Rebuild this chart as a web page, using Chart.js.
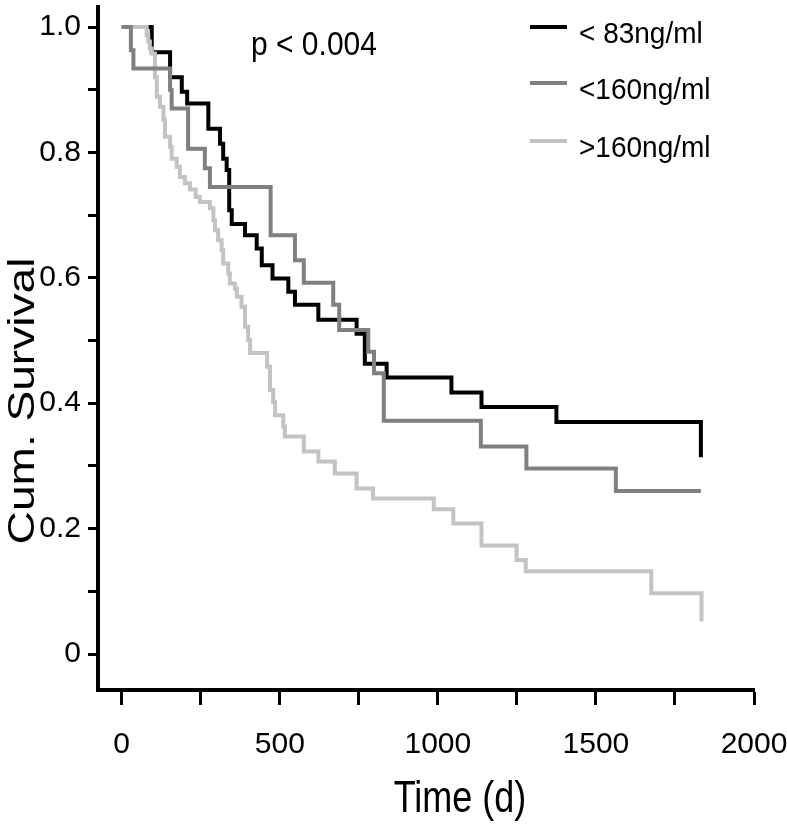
<!DOCTYPE html>
<html>
<head>
<meta charset="utf-8">
<script src="https://cdn.jsdelivr.net/npm/chart.js@4.4.1/dist/chart.umd.min.js"></script>
<style>
  html, body { margin: 0; padding: 0; background: #fff; }
  #wrap { width: 787px; height: 831px; }
</style>
</head>
<body>
<div id="wrap"><canvas id="kmChart" width="787" height="831"></canvas></div>
<script>
// ---------------- DATA ----------------
const seriesLabels = ["< 83ng/ml", "<160ng/ml", ">160ng/ml"];
const seriesColors = ["#000000", "#808080", "#c3c3c3"];
const seriesOrder = [3, 1, 2]; // black underneath, dark grey on top

// < 83ng/ml
const lowTime = [0, 95, 153, 190, 207, 274, 311, 321, 332, 340, 348, 390, 427, 443, 477, 527, 548, 622, 743, 769, 838, 1043, 1138, 1375, 1832];
const lowSurv = [1.0, 0.96, 0.92, 0.897, 0.878, 0.838, 0.814, 0.79, 0.772, 0.708, 0.686, 0.668, 0.647, 0.62, 0.599, 0.578, 0.557, 0.533, 0.511, 0.463, 0.441, 0.417, 0.394, 0.37, 0.314];

// <160ng/ml
const midTime = [0, 29, 37, 153, 158, 210, 263, 279, 471, 548, 576, 669, 688, 780, 798, 829, 1136, 1280, 1563, 1832];
const midSurv = [1.0, 0.963, 0.934, 0.9, 0.87, 0.806, 0.775, 0.745, 0.668, 0.628, 0.592, 0.557, 0.517, 0.482, 0.448, 0.372, 0.331, 0.296, 0.26, 0.26];

// >160ng/ml
const highTime = [0, 79, 84, 89, 95, 105, 111, 121, 132, 137, 153, 158, 174, 184, 200, 216, 234, 247, 279, 290, 295, 305, 316, 321, 337, 342, 358, 364, 379, 390, 400, 406, 460, 469, 479, 485, 511, 516, 576, 622, 674, 743, 795, 987, 1049, 1138, 1249, 1278, 1675, 1834];
const highSurv = [1.0, 0.987, 0.977, 0.966, 0.958, 0.92, 0.889, 0.873, 0.852, 0.825, 0.809, 0.79, 0.777, 0.761, 0.751, 0.741, 0.729, 0.721, 0.711, 0.692, 0.676, 0.66, 0.644, 0.623, 0.607, 0.591, 0.583, 0.57, 0.554, 0.522, 0.501, 0.48, 0.458, 0.421, 0.402, 0.381, 0.363, 0.347, 0.323, 0.307, 0.288, 0.264, 0.248, 0.231, 0.208, 0.173, 0.15, 0.132, 0.097, 0.052];

const xTitle = "Time (d)";
const yTitle = "Cum. Survival";
const pText = "p < 0.004";

const FONT = "'Liberation Sans', Arial, Helvetica, sans-serif";

function toPoints(times, surv) {
  return times.map((t, i) => ({ x: t, y: surv[i] }));
}

// the scanned figure is a bit taller than wide, so text gets stretched
function stretchedText(ctx, text, x, y, sx, sy) {
  ctx.save();
  ctx.translate(x, y);
  ctx.scale(sx, sy);
  ctx.fillText(text, 0, 0);
  ctx.restore();
}

// keep Chart.js from adding label overflow padding around the plot
function noPadding(scale) {
  scale.paddingLeft = 0;
  scale.paddingRight = 0;
  scale.paddingTop = 0;
  scale.paddingBottom = 0;
}

// ---------------- PLUGINS ----------------
// legend in upper right + p value + axis titles
const annotations = {
  id: "annotations",
  afterDraw(chart) {
    const ctx = chart.ctx;
    ctx.save();
    ctx.fillStyle = "#000";
    ctx.textBaseline = "alphabetic";

    // legend
    const rows = [27, 83, 141];
    ctx.font = "28px " + FONT;
    ctx.textAlign = "left";
    chart.data.datasets.forEach((ds, i) => {
      ctx.strokeStyle = ds.borderColor;
      ctx.lineWidth = 4;
      ctx.beginPath();
      ctx.moveTo(530, rows[i]);
      ctx.lineTo(567, rows[i]);
      ctx.stroke();
      stretchedText(ctx, ds.label, 579, rows[i] + 16, 1, 1.08);
    });

    // p value
    ctx.font = "30px " + FONT;
    stretchedText(ctx, pText, 251, 55, 1, 1.08);

    // x title
    ctx.font = "36px " + FONT;
    ctx.textAlign = "center";
    stretchedText(ctx, xTitle, 460, 812, 1, 1.22);

    // y title
    ctx.translate(34, 401);
    ctx.rotate(-Math.PI / 2);
    stretchedText(ctx, yTitle, 0, 0, 1.28, 1);
    ctx.restore();
  }
};

// ---------------- CHART ----------------
const ctx = document.getElementById("kmChart").getContext("2d");

new Chart(ctx, {
  type: "line",
  data: {
    datasets: [
      { label: seriesLabels[0], data: toPoints(lowTime, lowSurv), borderColor: seriesColors[0], order: seriesOrder[0] },
      { label: seriesLabels[1], data: toPoints(midTime, midSurv), borderColor: seriesColors[1], order: seriesOrder[1] },
      { label: seriesLabels[2], data: toPoints(highTime, highSurv), borderColor: seriesColors[2], order: seriesOrder[2] }
    ].map(ds => Object.assign(ds, {
      borderWidth: 4,
      stepped: "before",
      pointRadius: 0,
      fill: false,
      borderCapStyle: "butt",
      borderJoinStyle: "miter"
    }))
  },
  options: {
    responsive: false,
    animation: false,
    devicePixelRatio: 1,
    layout: { padding: { left: 0, right: 33, top: 7, bottom: 0 } },
    plugins: {
      legend: { display: false },
      tooltip: { enabled: false },
      title: { display: false }
    },
    scales: {
      x: {
        type: "linear",
        min: -75,
        max: 2000,
        afterFit: scale => { scale.height = 141; noPadding(scale); },
        border: { display: true, color: "#000", width: 4 },
        grid: { display: true, drawOnChartArea: false, drawTicks: true, tickLength: 15, tickWidth: 3, tickColor: "#000" },
        ticks: {
          stepSize: 250,
          includeBounds: false,
          autoSkip: false,
          maxRotation: 0,
          padding: 22,
          color: "#000",
          font: { family: FONT, size: 30 },
          callback: value => (value % 500 === 0 ? String(value) : "")
        }
      },
      y: {
        type: "linear",
        min: -0.0574,
        max: 1.032,
        afterFit: scale => { scale.width = 98; noPadding(scale); },
        border: { display: true, color: "#000", width: 4 },
        grid: { display: true, drawOnChartArea: false, drawTicks: true, tickLength: 10, tickWidth: 3, tickColor: "#000" },
        ticks: {
          stepSize: 0.1,
          includeBounds: false,
          autoSkip: false,
          padding: 7,
          color: "#000",
          font: { family: FONT, size: 30 },
          callback: value => {
            const r = Math.round(value * 10);
            if (r % 2 !== 0) return "";
            return r === 0 ? "0" : (r / 10).toFixed(1);
          }
        }
      }
    }
  },
  plugins: [annotations]
});
</script>
</body>
</html>
